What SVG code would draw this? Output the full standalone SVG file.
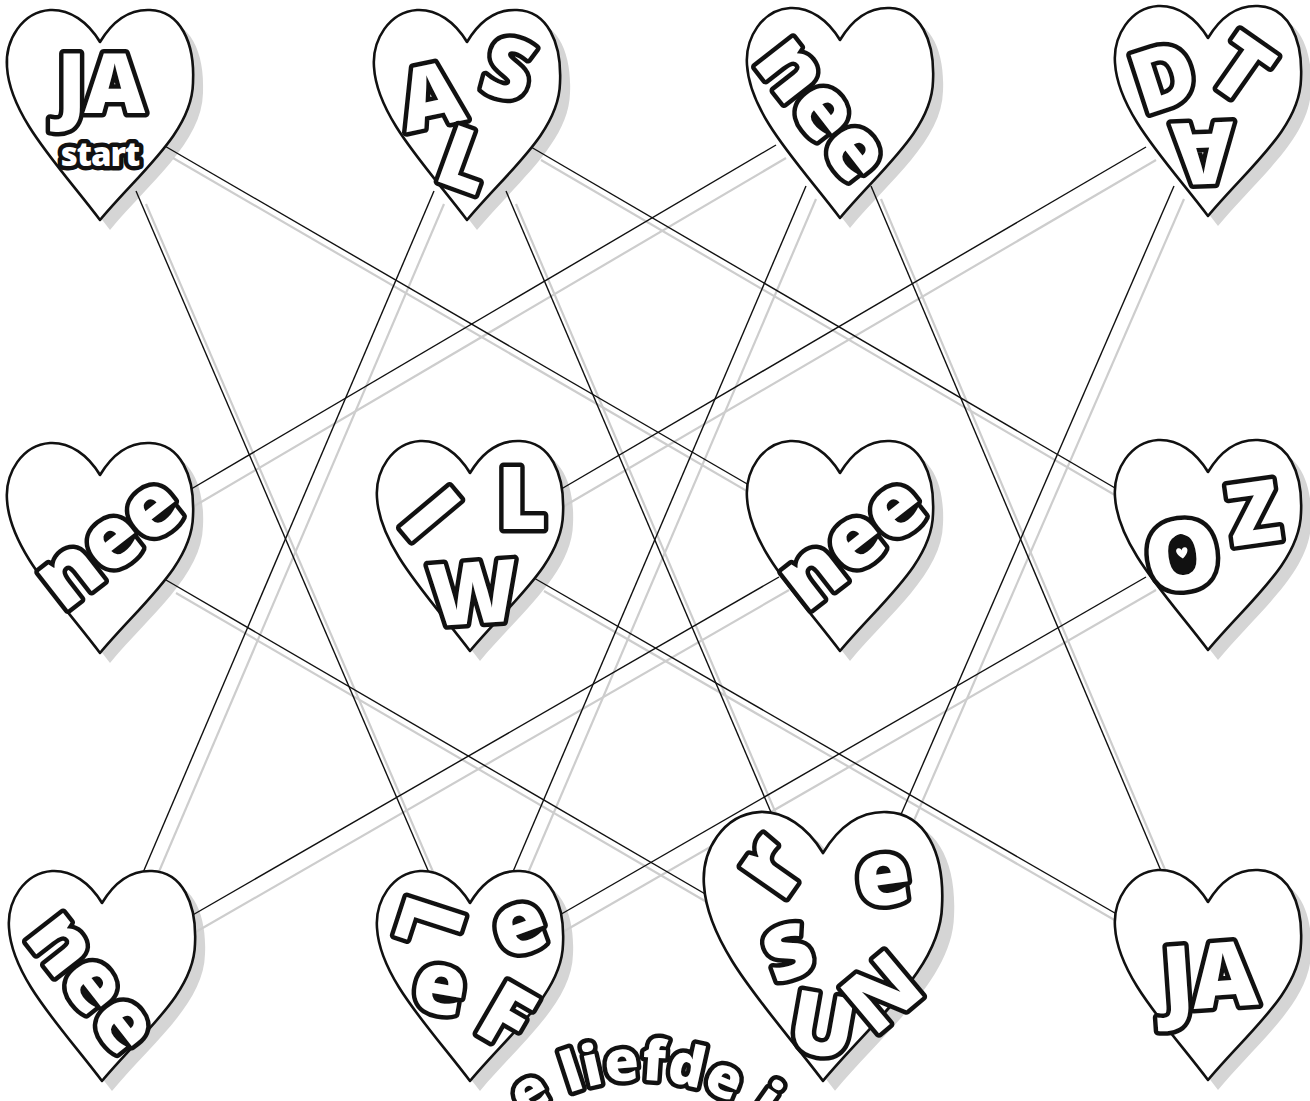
<svg xmlns="http://www.w3.org/2000/svg" width="1310" height="1101" viewBox="0 0 1310 1101">
<style>
.hs{fill:#d5d5d5}
.h{fill:#fff;stroke:#111;stroke-width:2.6;stroke-linejoin:round}
.ln{stroke:#111;stroke-width:1.4;fill:none}
.sl{stroke:#cdcdcd;stroke-width:2.2;fill:none}
.b{font-family:"Open Sans","DejaVu Sans",sans-serif;font-weight:800;fill:#fff;stroke:#111;stroke-width:9;paint-order:stroke fill;stroke-linejoin:round;text-anchor:middle;dominant-baseline:central}
</style>
<defs>
<path id="hp" d="M0,0 C-12,-20 -30,-33 -50,-32 C-78,-30 -95,-2 -93,25 C-90,75 -40,125 0,178 C40,130 92,90 93,41 C95,0 80,-31 50,-32 C28,-33 12,-20 0,0 Z"/>
<path id="mh" d="M0,4 C-7,-1 -8,-7 -4,-8 C-2,-8.5 0,-7 0,-5 C0,-7 2,-8.5 4,-8 C8,-7 7,-1 0,4 Z"/>
</defs>
<rect width="1310" height="1101" fill="#fff"/>
<g id="shadows">
<use href="#hp" class="hs" transform="translate(110,52)"/>
<use href="#hp" class="hs" transform="translate(477,52)"/>
<use href="#hp" class="hs" transform="translate(850,50)"/>
<use href="#hp" class="hs" transform="translate(1218,48)"/>
<use href="#hp" class="hs" transform="translate(110,485)"/>
<use href="#hp" class="hs" transform="translate(480,483)"/>
<use href="#hp" class="hs" transform="translate(850,483)"/>
<use href="#hp" class="hs" transform="translate(1218,482)"/>
<use href="#hp" class="hs" transform="translate(112,913)"/>
<use href="#hp" class="hs" transform="translate(480,913)"/>
<use href="#hp" class="hs" transform="translate(835,863) scale(1.28)"/>
<use href="#hp" class="hs" transform="translate(1218,912)"/>
</g>
<g id="connectors">
<g transform="translate(10,13)">
<line class="sl" x1="163" y1="145" x2="761" y2="492"/>
<line class="sl" x1="136" y1="191" x2="436" y2="889"/>
<line class="sl" x1="434" y1="191" x2="139" y2="882"/>
<line class="sl" x1="506" y1="191" x2="776" y2="824"/>
<line class="sl" x1="531" y1="147" x2="1127" y2="495"/>
<line class="sl" x1="776" y1="145" x2="181" y2="495"/>
<line class="sl" x1="806" y1="186" x2="509" y2="881"/>
<line class="sl" x1="871" y1="186" x2="1167" y2="885"/>
<line class="sl" x1="1146" y1="147" x2="551" y2="495"/>
<line class="sl" x1="1174" y1="186" x2="896" y2="826"/>
<line class="sl" x1="166" y1="580" x2="719" y2="902"/>
<line class="sl" x1="534" y1="578" x2="1127" y2="920"/>
<line class="sl" x1="779" y1="577" x2="184" y2="920"/>
<line class="sl" x1="1146" y1="577" x2="551" y2="920"/>
</g>
<line class="ln" x1="163" y1="145" x2="761" y2="492"/>
<line class="ln" x1="136" y1="191" x2="436" y2="889"/>
<line class="ln" x1="434" y1="191" x2="139" y2="882"/>
<line class="ln" x1="506" y1="191" x2="776" y2="824"/>
<line class="ln" x1="531" y1="147" x2="1127" y2="495"/>
<line class="ln" x1="776" y1="145" x2="181" y2="495"/>
<line class="ln" x1="806" y1="186" x2="509" y2="881"/>
<line class="ln" x1="871" y1="186" x2="1167" y2="885"/>
<line class="ln" x1="1146" y1="147" x2="551" y2="495"/>
<line class="ln" x1="1174" y1="186" x2="896" y2="826"/>
<line class="ln" x1="166" y1="580" x2="719" y2="902"/>
<line class="ln" x1="534" y1="578" x2="1127" y2="920"/>
<line class="ln" x1="779" y1="577" x2="184" y2="920"/>
<line class="ln" x1="1146" y1="577" x2="551" y2="920"/>
</g>
<g id="h1">
<use href="#hp" class="h" transform="translate(100,42)"/>
<text class="b" x="100" y="80" font-size="84" letter-spacing="-2">JA</text>
<text class="b" x="100" y="153" font-size="33" stroke-width="6" letter-spacing="-1">start</text>
</g>
<g id="h2">
<use href="#hp" class="h" transform="translate(467,42)"/>
<text class="b" font-size="86" transform="translate(430,93) rotate(-12)">A</text>
<text class="b" font-size="84" transform="translate(509,66) rotate(15)">S</text>
<text class="b" font-size="84" transform="translate(466,157) rotate(20)">L</text>
</g>
<g id="h3">
<use href="#hp" class="h" transform="translate(840,40)"/>
<text class="b" font-size="86" letter-spacing="-2" transform="translate(827,104) rotate(52)">nee</text>
</g>
<g id="h4">
<use href="#hp" class="h" transform="translate(1208,38)"/>
<text class="b" font-size="86" transform="translate(1163,74) rotate(-18)">D</text>
<text class="b" font-size="86" transform="translate(1243,66) rotate(35)">T</text>
<text class="b" font-size="86" transform="translate(1203,156) rotate(178)">A</text>
</g>
<g id="h5">
<use href="#hp" class="h" transform="translate(100,475)"/>
<text class="b" font-size="86" letter-spacing="-2" transform="translate(105,538) rotate(-38)">nee</text>
</g>
<g id="h6">
<use href="#hp" class="h" transform="translate(470,473)"/>
<text class="b" font-size="90" transform="translate(433,512) rotate(50)">I</text>
<text class="b" font-size="86" transform="translate(522,495)">L</text>
<text class="b" font-size="86" transform="translate(473,590) rotate(-4)">W</text>
</g>
<g id="h7">
<use href="#hp" class="h" transform="translate(840,473)"/>
<text class="b" font-size="86" letter-spacing="-2" transform="translate(848,538) rotate(-38)">nee</text>
</g>
<g id="h8">
<use href="#hp" class="h" transform="translate(1208,472)"/>
<g transform="translate(1182,552) rotate(-8)">
<text class="b" font-size="96">O</text>
<ellipse cx="0" cy="2" rx="12" ry="20" fill="#111"/>
<use href="#mh" fill="#fff" transform="translate(0,3) scale(0.9)"/>
</g>
<text class="b" font-size="86" transform="translate(1253,510) rotate(-8)">Z</text>
</g>
<g id="h9">
<use href="#hp" class="h" transform="translate(102,903)"/>
<text class="b" font-size="84" letter-spacing="-2" transform="translate(96,978) rotate(52)">nee</text>
</g>
<g id="h10">
<use href="#hp" class="h" transform="translate(470,903)"/>
<text class="b" font-size="86" transform="translate(433,925) rotate(108)">L</text>
<text class="b" font-size="86" transform="translate(517,920) rotate(-20)">e</text>
<text class="b" font-size="86" transform="translate(441,980) rotate(10)">e</text>
<text class="b" font-size="86" transform="translate(508,1013) rotate(30)">F</text>
</g>
<g id="h11">
<use href="#hp" class="h" style="stroke-width:2.1" transform="translate(823,853) scale(1.28)"/>
<text class="b" font-size="100" transform="translate(764,862) rotate(-55)">r</text>
<text class="b" font-size="90" transform="translate(882,870) rotate(-8)">e</text>
<text class="b" font-size="94" transform="translate(785,942) rotate(-20)">s</text>
<text class="b" font-size="86" transform="translate(823,1022) rotate(10)">U</text>
<text class="b" font-size="84" transform="translate(880,990) rotate(-40)">N</text>
</g>
<g id="h12">
<use href="#hp" class="h" transform="translate(1208,902)"/>
<text class="b" font-size="90" letter-spacing="-2" transform="translate(1208,973) rotate(-4)">JA</text>
</g>
<g id="caption">
<path id="arc" d="M440,1280 A200,200 0 0 1 840,1280" fill="none"/>
<text class="b" font-size="56" stroke-width="7" letter-spacing="1" style="text-anchor:start;dominant-baseline:alphabetic"><textPath href="#arc" startOffset="190">e liefde i</textPath></text>
</g>
</svg>
